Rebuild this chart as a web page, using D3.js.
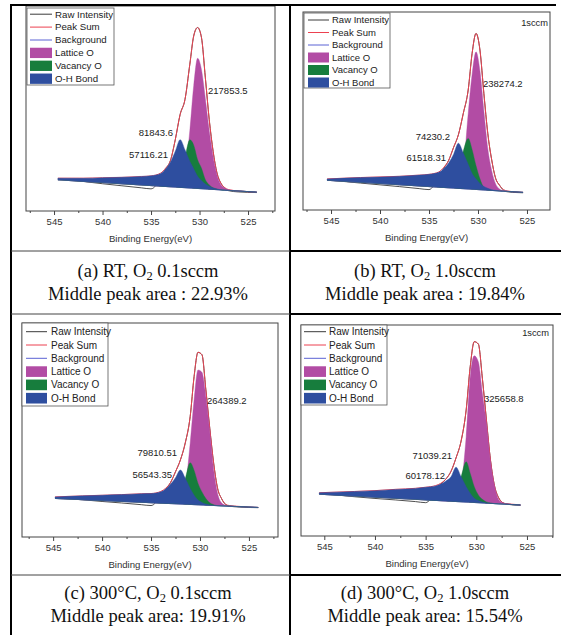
<!DOCTYPE html>
<html>
<head>
<meta charset="utf-8">
<script src="https://cdn.jsdelivr.net/npm/d3@7"></script>
<style>
  body { margin: 0; background: #fff; }
  svg { display: block; }
</style>
</head>
<body>
<svg id="chart" width="561" height="635"></svg>
<script>
// binding energy grid (eV); each panel adds its own first and last point
var gridEnergies = [542, 540, 538, 536, 535, 534, 533.5, 533, 532.5, 532, 531.5, 531,
  530.6, 530.2, 529.8, 529.4, 529, 528.6, 528.2, 527.8, 527.4, 527, 526];
var eFirst = [544.6, 545.4, 544.8, 545.5];
var eLast = [524.1, 525.4, 524.05, 525.64];

// linear background, intensity (a.u.) at first / last energy
var bgHigh = [15.2, 15.0, 18.0, 19.8];
var bgLow = [9.2, 8.9, 13.8, 14.7];

// fitted components, height above background
var ohBond = [
  [0.8, 1.5, 2.4, 3.2, 4.2, 4.8, 6.2, 8.5, 12, 17.5, 23.3, 18.5, 13, 9.5, 6, 4, 2.4, 1.4, 0.7, 0.3, 0.1, 0, 0, 0, 0],
  [0.7, 2.4, 3.3, 4.3, 5.5, 6.2, 7.5, 9.5, 12.5, 17, 22.8, 18, 12.5, 8, 5.3, 3.2, 1.8, 1, 0.4, 0.2, 0, 0, 0, 0, 0],
  [0.75, 1.8, 2.5, 3.2, 4.0, 4.3, 5.3, 6.7, 9.1, 12.2, 15.9, 12.1, 7.5, 4.4, 2.2, 1.2, 0.5, 0.2, 0, 0, 0, 0, 0, 0, 0],
  [0.7, 2.2, 3.1, 4.2, 5.2, 6, 6.9, 7.9, 9.5, 11.6, 16.3, 11.9, 7.3, 4.3, 2, 1, 0.4, 0.1, 0, 0, 0, 0, 0, 0, 0]
];
var vacancyO = [
  [0, 0, 0, 0, 0, 0, 0.2, 0.4, 0.8, 2, 6, 15, 23.5, 21, 14, 10, 4.5, 2.1, 0.8, 0.3, 0, 0, 0, 0, 0],
  [0, 0, 0, 0, 0, 0, 0.2, 0.5, 1, 2.5, 8, 19, 25.5, 20, 12, 5.5, 1.2, 0.3, 0, 0, 0, 0, 0, 0, 0],
  [0, 0, 0, 0, 0, 0, 0.2, 0.4, 0.8, 2, 5, 12, 19.5, 16, 10, 6.1, 3.1, 1.2, 0.4, 0, 0, 0, 0, 0, 0],
  [0, 0, 0, 0, 0, 0, 0.2, 0.4, 0.8, 2, 5, 12, 19.1, 13.7, 7.5, 3.7, 1.7, 0.6, 0.2, 0, 0, 0, 0, 0, 0]
];
var latticeO = [
  [0, 0, 0, 0, 0, 0, 0, 0, 0, 0.5, 2, 8, 28, 50, 63.5, 58, 44, 28.5, 16, 7, 2.5, 1, 0.3, 0, 0],
  [0, 0, 0, 0, 0, 0, 0, 0, 0, 0.5, 2, 10, 38, 58, 69.5, 60, 40, 21, 10, 3.4, 1, 0.3, 0, 0, 0],
  [0, 0, 0, 0, 0, 0, 0, 0, 0, 0.5, 2, 8, 28.6, 49, 63, 62, 50.7, 34.4, 16.6, 5.7, 1.4, 0.4, 0, 0, 0],
  [0, 0, 0, 0, 0, 0, 0, 0, 0, 0.5, 2, 8, 31, 59.5, 69.5, 66.8, 52, 37.8, 19.8, 8.3, 2.1, 0.6, 0.2, 0, 0]
];
// peak sum, absolute intensity
var peakSum = [
  [16.0, 16.0, 16.2, 16.4, 16.8, 17.1, 18.5, 20.9, 24.6, 34.8, 47.1, 54.4, 71.6, 85.4, 89.5, 84.6, 65, 44.6, 29.1, 18.5, 13.6, 11.4, 10.4, 9.8, 9.2],
  [15.7, 16.4, 16.7, 17.0, 17.6, 18.0, 19.2, 21.5, 25, 31.5, 38, 48.8, 60.6, 79.1, 89.2, 80.8, 58.9, 38.7, 25.3, 16, 12.5, 10.3, 9.6, 9.1, 8.9],
  [18.75, 19.2, 19.5, 19.8, 20.2, 20.3, 21.3, 22.8, 25.5, 30.5, 36, 44, 56.3, 75, 86.3, 85.2, 68.8, 50.8, 34.4, 22.7, 18, 15.3, 14.7, 14.3, 13.8],
  [20.5, 21.1, 21.5, 22.1, 22.6, 23.1, 23.9, 25, 27, 30.6, 37, 45, 59.7, 80.2, 92.1, 91, 74.7, 55, 36, 23.7, 18.2, 15.8, 15.3, 14.9, 14.7]
];
// raw intensity minus peak sum
var residual = [
  [-0.3, -1.6, -2.9, -4.1, -5.5, -6.3, -2.5, -0.5, 0, 0, 0, 0, 0, 0, 0, 0, 0, 0, 0, 0, 0, -0.3, -0.5, -0.5, -0.2],
  [-0.5, -2.8, -4.0, -5.2, -6.8, -7.7, -2.5, -0.5, 0, 0, 0, 0, 0, 0, 0, 0, 0, 0, 0, 0, 0, -0.3, -0.4, -0.3, -0.2],
  [-0.5, -1.8, -2.9, -3.9, -5.1, -5.6, -2.2, -0.5, 0, 0, 0, 0, 0, 0, 0, 0, 0, 0, 0, 0, 0, 0, -0.3, -0.3, -0.1],
  [-0.3, -2.5, -3.7, -5.0, -6.3, -7.3, -2.8, -0.5, 0, 0, 0, 0, 0, 0, 0, 0, 0, 0, 0, 0, 0, 0, -0.2, -0.3, -0.2]
];

// peak areas: lattice, vacancy, O-H
var peakAreas = [
  ["217853.5", "81843.6", "57116.21"],
  ["238274.2", "74230.2", "61518.31"],
  ["264389.2", "79810.51", "56543.35"],
  ["325658.8", "71039.21", "60178.12"]
];
var flowTags = ["", "1sccm", "", "1sccm"];
var majorTicks = [545, 540, 535, 530, 525];
var minorTicks = [547.5, 542.5, 537.5, 532.5, 527.5, 522.5];
var legendNames = ["Raw Intensity", "Peak Sum", "Background", "Lattice O", "Vacancy O", "O-H Bond"];

var captionLetters = ["a", "b", "c", "d"];
var captionTemps = ["RT", "RT", "300°C", "300°C"];
var captionFlows = ["0.1sccm", "1.0sccm", "0.1sccm", "1.0sccm"];
var captionAreas = ["Middle peak area : 22.93%", "Middle peak area : 19.84%",
  "Middle peak area: 19.91%", "Middle peak area: 15.54%"];

var colors = {
  raw: "#3a3a3a", sum: "#ec4150", bg: "#5a62d4",
  lattice: "#b24ca4", vacancy: "#177d3d", oh: "#2e4e9f"
};

// panel layout (pixels)
var panels = [
  { left: 26, right: 275, top: 6, bottom: 211, xDomain: [547.89, 522.22],
    legend: { x: 27, y: 8, w: 87, h: 77, s1: 30, s2: 52, tx: 55, row0: 14.2, step: 12.9, fs: 9.7 },
    labels: [[208, 91, "start"], [173, 133, "end"], [168, 155, "end"]], tag: [548, 23],
    capX: 148, capY: 271 },
  { left: 303, right: 550, top: 12, bottom: 210, xDomain: [547.86, 522.65],
    legend: { x: 304, y: 13, w: 86, h: 75, s1: 308, s2: 329, tx: 332, row0: 20, step: 12.5, fs: 9.5 },
    labels: [[483, 84, "start"], [450, 137, "end"], [446, 158, "end"]], tag: [548, 23],
    capX: 425, capY: 271 },
  { left: 22, right: 278, top: 323, bottom: 537, xDomain: [548.18, 522.03],
    legend: { x: 22, y: 323, w: 86, h: 83, s1: 26, s2: 47, tx: 51, row0: 331.7, step: 13.3, fs: 10 },
    labels: [[207, 401, "start"], [177, 453, "end"], [172, 475, "end"]], tag: [548, 333],
    capX: 148, capY: 593 },
  { left: 301, right: 553, top: 325, bottom: 536, xDomain: [547.3, 522.43],
    legend: { x: 301, y: 325, w: 86, h: 80, s1: 304, s2: 326, tx: 329, row0: 331.7, step: 13.3, fs: 10 },
    labels: [[484, 399, "start"], [452, 456, "end"], [445, 476, "end"]], tag: [549, 333],
    capX: 425, capY: 593 }
];

var svg = d3.select("#chart");
var sans = "Arial, 'Liberation Sans', sans-serif";
var serif = "'Times New Roman', 'Liberation Serif', serif";

panels.forEach(function(p, i) {
  var energies = [eFirst[i]].concat(gridEnergies, [eLast[i]]);
  var x = d3.scaleLinear().domain(p.xDomain).range([p.left, p.right]);
  var y = d3.scaleLinear().domain([0, 100]).range([p.bottom, p.top]);
  var bg = d3.scaleLinear().domain([eFirst[i], eLast[i]]).range([bgHigh[i], bgLow[i]]);

  var g = svg.append("g");

  var line = d3.line()
    .x(function(d) { return x(d[0]); })
    .y(function(d) { return y(d[1]); })
    .curve(d3.curveMonotoneX);

  var area = d3.area()
    .x(function(d) { return x(d[0]); })
    .y0(function(d) { return y(d[1]); })
    .y1(function(d) { return y(d[2]); })
    .curve(d3.curveMonotoneX);

  var rawPts = energies.map(function(e, k) { return [e, peakSum[i][k] + residual[i][k]]; });
  var sumPts = energies.map(function(e, k) { return [e, peakSum[i][k]]; });
  var bgPts = [[eFirst[i], bgHigh[i]], [eLast[i], bgLow[i]]];

  g.append("path").attr("d", line(rawPts))
    .attr("fill", "none").attr("stroke", colors.raw).attr("stroke-width", 0.9);
  g.append("path").attr("d", line(sumPts))
    .attr("fill", "none").attr("stroke", colors.sum).attr("stroke-width", 1);
  g.append("path").attr("d", line(bgPts))
    .attr("fill", "none").attr("stroke", colors.bg).attr("stroke-width", 1);

  // component fills, lattice at the back, O-H in front
  [[latticeO, colors.lattice], [vacancyO, colors.vacancy], [ohBond, colors.oh]].forEach(function(c) {
    var pts = energies.map(function(e, k) { return [e, bg(e), bg(e) + c[0][i][k]]; });
    g.append("path").attr("d", area(pts))
      .attr("fill", c[1]).attr("stroke", c[1]).attr("stroke-width", 0.4);
  });

  // frame
  g.append("rect")
    .attr("x", p.left).attr("y", p.top)
    .attr("width", p.right - p.left).attr("height", p.bottom - p.top)
    .attr("fill", "none").attr("stroke", "#444").attr("stroke-width", 1);

  // x axis
  var axis = d3.axisBottom(x).tickValues(majorTicks).tickSize(4).tickPadding(3)
    .tickFormat(d3.format("d"));
  var ax = g.append("g").attr("transform", "translate(0," + p.bottom + ")").call(axis);
  ax.select(".domain").remove();
  ax.selectAll("line").attr("stroke", "#444");
  ax.selectAll("text").attr("font-family", sans).attr("font-size", 9.5).attr("fill", "#333");

  var minor = d3.axisBottom(x)
    .tickValues(minorTicks.filter(function(t) { return t < p.xDomain[0] && t > p.xDomain[1]; }))
    .tickSize(2).tickFormat("");
  var mx = g.append("g").attr("transform", "translate(0," + p.bottom + ")").call(minor);
  mx.select(".domain").remove();
  mx.selectAll("line").attr("stroke", "#444");

  g.append("text")
    .attr("x", (p.left + p.right) / 2).attr("y", p.bottom + 28).attr("dy", "0.35em")
    .attr("text-anchor", "middle").attr("font-family", sans).attr("font-size", 9.6)
    .attr("fill", "#333").text("Binding Energy(eV)");

  // legend
  var L = p.legend;
  g.append("rect").attr("x", L.x).attr("y", L.y).attr("width", L.w).attr("height", L.h)
    .attr("fill", "#fff").attr("stroke", "#555").attr("stroke-width", 0.8);
  var swatch = [colors.raw, colors.sum, colors.bg, colors.lattice, colors.vacancy, colors.oh];
  legendNames.forEach(function(name, k) {
    var cy = L.row0 + k * L.step;
    if (k < 3) {
      g.append("line").attr("x1", L.s1).attr("x2", L.s2).attr("y1", cy).attr("y2", cy)
        .attr("stroke", swatch[k]).attr("stroke-width", 1);
    } else {
      var hh = L.step * 0.8;
      g.append("rect").attr("x", L.s1).attr("y", cy - hh / 2)
        .attr("width", L.s2 - L.s1).attr("height", hh).attr("fill", swatch[k]);
    }
    g.append("text").attr("x", L.tx).attr("y", cy).attr("dy", "0.35em")
      .attr("font-family", sans).attr("font-size", L.fs).attr("fill", "#222").text(name);
  });

  // peak area labels
  p.labels.forEach(function(lb, k) {
    g.append("text").attr("x", lb[0]).attr("y", lb[1]).attr("dy", "0.35em")
      .attr("text-anchor", lb[2]).attr("font-family", sans).attr("font-size", 9.5)
      .attr("fill", "#222").text(peakAreas[i][k]);
  });

  if (flowTags[i]) {
    g.append("text").attr("x", p.tag[0]).attr("y", p.tag[1]).attr("dy", "0.35em")
      .attr("text-anchor", "end").attr("font-family", sans).attr("font-size", 9.3)
      .attr("fill", "#222").text(flowTags[i]);
  }

  // caption
  var cap = svg.append("text").attr("x", p.capX).attr("y", p.capY).attr("dy", "0.35em")
    .attr("text-anchor", "middle").attr("font-family", serif).attr("font-size", 18.5)
    .attr("fill", "#111");
  cap.append("tspan").text("(" + captionLetters[i] + ") " + captionTemps[i] + ", O");
  cap.append("tspan").attr("font-size", 12.5).attr("dy", 3).text("2");
  cap.append("tspan").attr("dy", -3).text(" " + captionFlows[i]);
  svg.append("text").attr("x", p.capX).attr("y", p.capY + 23).attr("dy", "0.35em")
    .attr("text-anchor", "middle").attr("font-family", serif).attr("font-size", 18.5)
    .attr("fill", "#111").text(captionAreas[i]);
});

// table rules
var rules = svg.append("g");
rules.append("line").attr("x1", 10).attr("x2", 556).attr("y1", 5).attr("y2", 5)
  .attr("stroke", "#000").attr("stroke-width", 2);
[11, 290].forEach(function(xv) {
  rules.append("line").attr("x1", xv).attr("x2", xv).attr("y1", 4).attr("y2", 635)
    .attr("stroke", "#000").attr("stroke-width", 2);
});
[251, 314, 575].forEach(function(yv) {
  rules.append("line").attr("x1", 11).attr("x2", 290).attr("y1", yv).attr("y2", yv)
    .attr("stroke", "#444").attr("stroke-width", 1);
  rules.append("line").attr("x1", 290).attr("x2", 561).attr("y1", yv).attr("y2", yv)
    .attr("stroke", "#000").attr("stroke-width", 2);
});
</script>
</body>
</html>
